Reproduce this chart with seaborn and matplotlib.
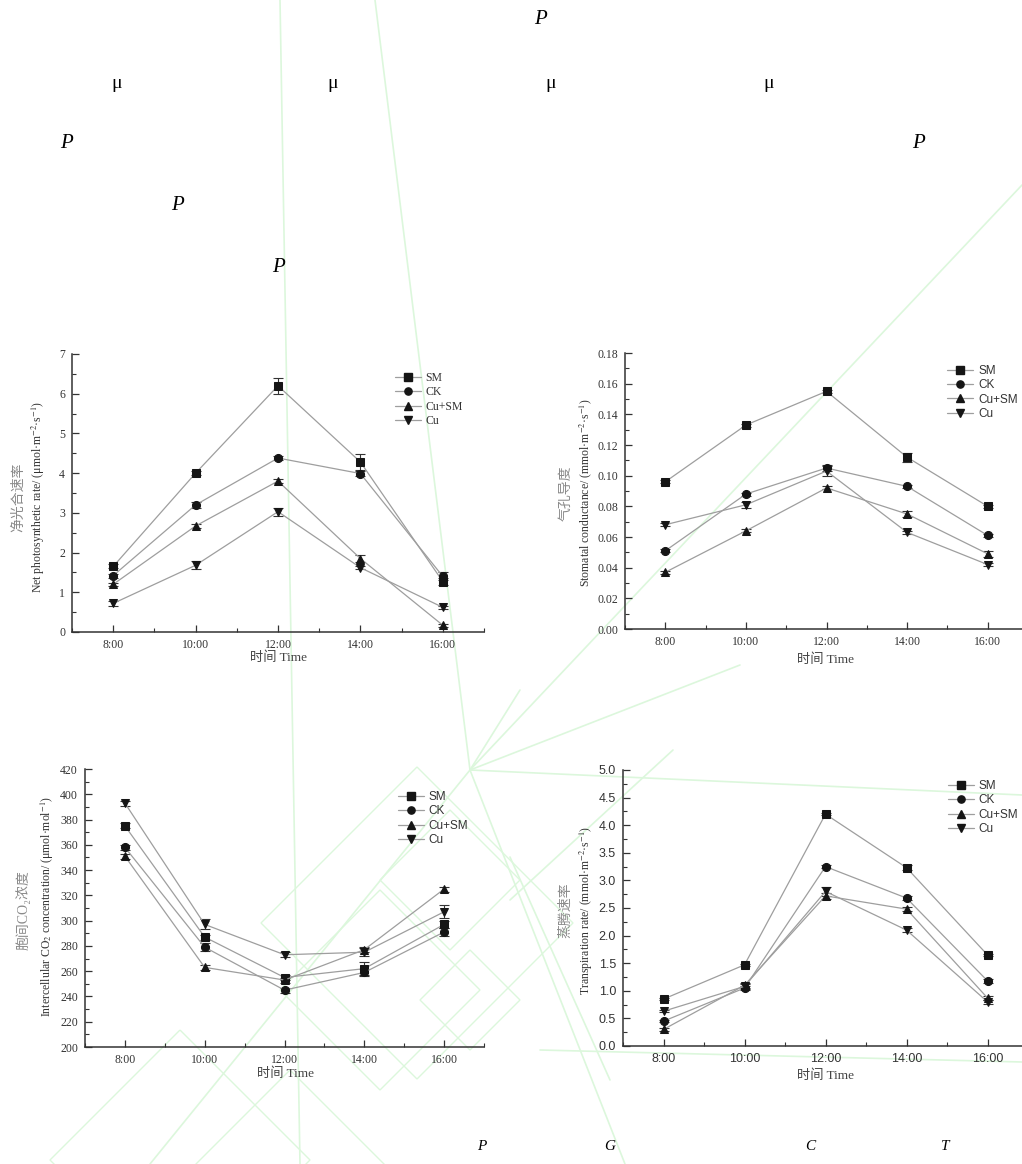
import matplotlib
matplotlib.use("Agg")
import matplotlib.pyplot as plt
import seaborn as sns
import pandas as pd
import numpy as np
from matplotlib.lines import Line2D
from matplotlib.patches import Polygon
from matplotlib.ticker import MultipleLocator, FormatStrFormatter

# ---- data ----
times = ["8:00", "10:00", "12:00", "14:00", "16:00"]
groups = ["SM", "CK", "Cu+SM", "Cu"]
markers = {"SM": "s", "CK": "o", "Cu+SM": "^", "Cu": "v"}

pn_sm = [1.65, 4.0, 6.2, 4.28, 1.27]
pn_ck = [1.42, 3.2, 4.38, 3.99, 1.4]
pn_cusm = [1.2, 2.67, 3.8, 1.85, 0.17]
pn_cu = [0.72, 1.68, 3.03, 1.62, 0.62]
pn_err_sm = [0.05, 0.05, 0.2, 0.2, 0.08]
pn_err_ck = [0.05, 0.08, 0.04, 0.06, 0.1]
pn_err_cusm = [0.04, 0.04, 0.05, 0.08, 0.04]
pn_err_cu = [0.07, 0.1, 0.1, 0.04, 0.04]

gs_sm = [0.096, 0.133, 0.155, 0.112, 0.080]
gs_ck = [0.051, 0.088, 0.105, 0.093, 0.061]
gs_cusm = [0.037, 0.064, 0.092, 0.075, 0.049]
gs_cu = [0.068, 0.081, 0.103, 0.063, 0.042]
gs_err_sm = [0.001, 0.001, 0.001, 0.003, 0.001]
gs_err_ck = [0.001, 0.001, 0.002, 0.001, 0.001]
gs_err_cusm = [0.001, 0.001, 0.001, 0.002, 0.002]
gs_err_cu = [0.001, 0.002, 0.003, 0.001, 0.001]

ci_sm = [375, 287, 255, 262, 297]
ci_ck = [358, 279, 245, 259, 291]
ci_cusm = [351, 263, 253, 277, 325]
ci_cu = [393, 297, 273, 275, 307]
ci_err_sm = [2, 2, 2, 5, 3]
ci_err_ck = [2, 3, 2, 3, 3]
ci_err_cusm = [2, 2, 2, 2, 2]
ci_err_cu = [2, 4, 2, 3, 5]

tr_sm = [0.85, 1.47, 4.2, 3.23, 1.65]
tr_ck = [0.45, 1.05, 3.25, 2.68, 1.18]
tr_cusm = [0.3, 1.1, 2.72, 2.48, 0.87]
tr_cu = [0.63, 1.08, 2.8, 2.1, 0.8]
tr_err_sm = [0.02, 0.02, 0.02, 0.05, 0.02]
tr_err_ck = [0.02, 0.03, 0.03, 0.03, 0.03]
tr_err_cusm = [0.02, 0.05, 0.06, 0.04, 0.03]
tr_err_cu = [0.02, 0.04, 0.08, 0.03, 0.04]

W, H = 1022, 1164
sns.set_theme(style="ticks")
SERIF = ['Liberation Serif', 'DejaVu Serif', 'Noto Sans CJK SC']
SANS = ['Liberation Sans', 'DejaVu Sans', 'Noto Sans CJK SC']
plt.rcParams['font.family'] = SERIF
plt.rcParams['mathtext.fontset'] = 'stix'

fig = plt.figure(figsize=(W / 100, H / 100), dpi=100)
fig.patch.set_facecolor("white")


def px(x, y):
    return x / W, 1 - y / H


def add_axes(left, top, right, bottom):
    return fig.add_axes([left / W, 1 - bottom / H, (right - left) / W, (bottom - top) / H])


# light green watermark lines behind everything (scan artefact)
wm = "#dcf7dc"
wm_lines = [
    [(280, 0), (300, 1164)],
    [(375, 0), (470, 770), (625, 1164)],
    [(1022, 185), (470, 770), (150, 1164)],
    [(470, 770), (1022, 795)],
    [(540, 1050), (1022, 1062)],
    [(470, 770), (740, 665)],
    [(470, 770), (520, 690)],
    [(673, 750), (510, 900)],
    [(510, 857), (610, 1080)],
]
for pts in wm_lines:
    xs = [p[0] / W for p in pts]
    ys = [1 - p[1] / H for p in pts]
    fig.add_artist(Line2D(xs, ys, color=wm, lw=1.2, zorder=0))
diamonds = [
    ((417, 923), 156), ((380, 990), 100), ((450, 880), 70),
    ((180, 1160), 130), ((290, 1180), 110), ((470, 1000), 50),
]
for (cx, cy), r in diamonds:
    verts = [px(cx, cy - r), px(cx + r, cy), px(cx, cy + r), px(cx - r, cy)]
    fig.add_artist(Polygon(verts, closed=True, fill=False, edgecolor=wm, lw=1.0, zorder=0))

panels = [
    dict(box=(72, 354, 484, 632), vals=[pn_sm, pn_ck, pn_cusm, pn_cu],
         errs=[pn_err_sm, pn_err_ck, pn_err_cusm, pn_err_cu],
         ylim=(0, 7), major=1, minor=0.5, fmt="%d", tickfont=SERIF, ticksize=8.5,
         legfont=SERIF, leg=(0.784, 0.935),
         cn=("净光合速率", 18, 497),
         en=("Net photosynthetic rate/ (μmol·m$^{-2}$·s$^{-1}$)", 38, 497),
         xl=(278, 658)),
    dict(box=(625, 353, 1028, 629), vals=[gs_sm, gs_ck, gs_cusm, gs_cu],
         errs=[gs_err_sm, gs_err_ck, gs_err_cusm, gs_err_cu],
         ylim=(0, 0.18), major=0.02, minor=0.01, fmt="%.2f", tickfont=SERIF, ticksize=8.5,
         legfont=SANS, leg=(0.80, 0.957),
         cn=("气孔导度", 566, 493),
         en=("Stomatal conductance/ (mmol·m$^{-2}$·s$^{-1}$)", 586, 493),
         xl=(825, 660)),
    dict(box=(85, 769, 484, 1047), vals=[ci_sm, ci_ck, ci_cusm, ci_cu],
         errs=[ci_err_sm, ci_err_ck, ci_err_cusm, ci_err_cu],
         ylim=(200, 420), major=20, minor=10, fmt="%d", tickfont=SERIF, ticksize=8.5,
         legfont=SANS, leg=(0.784, 0.921),
         cn=("胞间CO₂浓度", 23, 910),
         en=("Intercellular CO$_2$ concentration/ (μmol·mol$^{-1}$)", 47, 907),
         xl=(285, 1074)),
    dict(box=(623, 770, 1028, 1046), vals=[tr_sm, tr_ck, tr_cusm, tr_cu],
         errs=[tr_err_sm, tr_err_ck, tr_err_cusm, tr_err_cu],
         ylim=(0, 5.0), major=0.5, minor=0.25, fmt="%.1f", tickfont=SANS, ticksize=9,
         legfont=SANS, leg=(0.802, 0.964),
         cn=("蒸腾速率", 566, 910),
         en=("Transpiration rate/ (mmol·m$^{-2}$·s$^{-1}$)", 586, 910),
         xl=(825, 1076)),
]

xpos = np.arange(len(times))
line_c = "#9e9e9e"
mark_c = "#151515"
msize = {"SM": 5.4, "CK": 5.8, "Cu+SM": 6.0, "Cu": 6.0}

for p in panels:
    ax = add_axes(*p["box"])
    ax.set_facecolor("none")
    for g, vals, err in zip(groups, p["vals"], p["errs"]):
        df = pd.DataFrame({"x": xpos, "y": vals})
        sns.lineplot(data=df, x="x", y="y", ax=ax, color=line_c, lw=0.9,
                     marker=markers[g], markersize=msize[g], markerfacecolor=mark_c,
                     markeredgecolor=mark_c, zorder=3)
        ax.errorbar(xpos, vals, yerr=err, fmt="none", ecolor="#333333",
                    elinewidth=0.8, capsize=3.5, capthick=0.8, zorder=2)
    ax.set_xlim(-0.5, 4.5)
    ax.set_ylim(*p["ylim"])
    ax.set_xticks(xpos)
    ax.set_xticklabels(times)
    ax.xaxis.set_minor_locator(MultipleLocator(0.5))
    ax.yaxis.set_major_locator(MultipleLocator(p["major"]))
    ax.yaxis.set_minor_locator(MultipleLocator(p["minor"]))
    ax.yaxis.set_major_formatter(FormatStrFormatter(p["fmt"]))
    ax.set_xlabel("")
    ax.set_ylabel("")
    ax.tick_params(which="major", direction="in", length=5, width=0.9,
                   colors="#333333", labelsize=p["ticksize"], pad=5)
    ax.tick_params(which="minor", direction="in", length=3, width=0.8, colors="#333333")
    for lab in ax.get_xticklabels() + ax.get_yticklabels():
        lab.set_family(p["tickfont"])
        lab.set_color("#333333")
    for side in ["top", "right"]:
        ax.spines[side].set_visible(False)
    for side in ["left", "bottom"]:
        ax.spines[side].set_color("#333333")
        ax.spines[side].set_linewidth(1.1)

    handles = [Line2D([0], [0], color=line_c, lw=0.9, marker=markers[g], markersize=5.2,
                      markerfacecolor=mark_c, markeredgecolor=mark_c) for g in groups]
    leg = ax.legend(handles, groups, loc="upper left", bbox_to_anchor=p["leg"],
                    frameon=False, handlelength=2.2, handletextpad=0.4,
                    labelspacing=0.2, borderpad=0, borderaxespad=0,
                    prop={"family": p["legfont"], "size": 8.5})
    for t in leg.get_texts():
        t.set_color("#333333")

    cn, cx, cy = p["cn"]
    fig.text(*px(cx, cy), cn, rotation=90, ha="center", va="center",
             fontsize=10, color="#8a8a8a", family=SERIF)
    en, ex, ey = p["en"]
    fig.text(*px(ex, ey), en, rotation=90, ha="center", va="center",
             fontsize=8.5, color="#333333", family=SERIF)
    xx, xy = p["xl"]
    fig.text(*px(xx, xy), "时间 Time", ha="center", va="center",
             fontsize=9.5, color="#444444", family=SERIF)

# stray symbols from the page text layer
stray = [("P", 540, 20, 15), ("P", 66, 143, 15), ("P", 918, 143, 15),
         ("P", 177, 205, 15), ("P", 278, 268, 15),
         ("P", 482, 1147, 11), ("G", 610, 1147, 11), ("C", 810, 1147, 11),
         ("T", 945, 1147, 11)]
for s, sx, sy, fs in stray:
    fig.text(*px(sx, sy), s, ha="center", va="center", fontsize=fs,
             style="italic", color="black", family=SERIF)
for mx in [117, 333, 551, 769]:
    fig.text(*px(mx, 84), "μ", ha="center", va="center", fontsize=14,
             color="black", family=SERIF)

fig.savefig("out.png", dpi=100, facecolor="white")
